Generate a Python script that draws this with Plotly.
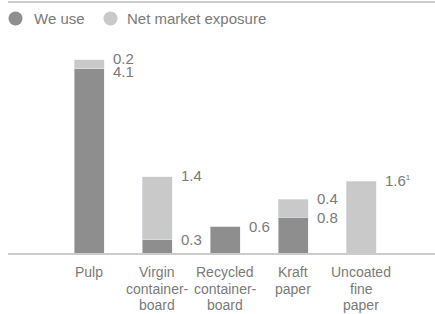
import plotly.graph_objects as go

categories = ["Pulp", "Virgin<br>container-<br>board", "Recycled<br>container-<br>board", "Kraft<br>paper", "Uncoated<br>fine<br>paper"]
we_use = [4.1, 0.3, 0.6, 0.8, 0.0]
net_exposure = [0.2, 1.4, 0.0, 0.4, 1.6]
we_use_labels = ["4.1", "0.3", "0.6", "0.8", ""]
net_labels = ["0.2", "1.4", "", "0.4", "1.6<sup><span style='font-size:8px'>1</span></sup>"]
series_names = ["We use", "Net market exposure"]

DARK = "#8e8e8e"
LIGHT = "#c9c9c9"
TEXT = "#7a7a7a"
FONT = "Liberation Sans, Arial, sans-serif"

W, H = 435, 314
ML, MR, MT, MB = 8, 0, 40, 61
PX_PER_UNIT = 44.9
plot_h = H - MT - MB
plot_w = W - ML - MR
ymax = plot_h / PX_PER_UNIT
slot = 68.0
first_center = 89 - ML
xr0 = -first_center / slot
xr1 = xr0 + plot_w / slot

xs = list(range(len(categories)))

fig = go.Figure()
fig.add_trace(go.Bar(x=xs, y=we_use, marker_color=DARK, width=30 / slot, name=series_names[0],
                     showlegend=False, hoverinfo="skip"))
fig.add_trace(go.Bar(x=xs, y=net_exposure, marker_color=LIGHT, width=30 / slot, name=series_names[1],
                     showlegend=False, hoverinfo="skip"))

def px_x(p):
    return (p - ML) / plot_w

def px_y(p):
    return 1 + (MT - p) / plot_h

annotations = []
shapes = [dict(type="line", xref="paper", yref="paper", x0=0, x1=1,
               y0=px_y(2), y1=px_y(2), line=dict(color="#cccccc", width=2))]

# custom legend (circle + text)
legend_items = [(series_names[0], DARK, 15.5, 32), (series_names[1], LIGHT, 110.5, 125)]
for name, col, cx, tx in legend_items:
    shapes.append(dict(type="circle", xref="paper", yref="paper", xsizemode="pixel", ysizemode="pixel",
                       xanchor=px_x(cx), yanchor=px_y(18.5), x0=-7, x1=7, y0=-7, y1=7,
                       fillcolor=col, line=dict(width=0)))
    annotations.append(dict(xref="paper", yref="paper", x=px_x(tx), y=px_y(18.5), text=name,
                            xanchor="left", yanchor="middle", showarrow=False,
                            font=dict(size=15, color=TEXT, family=FONT)))

for i in xs:
    if we_use_labels[i]:
        shift = -3 if 0 < net_exposure[i] < 0.3 else 0
        annotations.append(dict(x=i + 0.5 * 30 / slot, y=we_use[i], text=we_use_labels[i],
                                xanchor="left", yanchor="middle", xshift=7, yshift=shift,
                                showarrow=False, font=dict(size=15, color=TEXT, family=FONT)))
    if net_labels[i]:
        annotations.append(dict(x=i + 0.5 * 30 / slot, y=we_use[i] + net_exposure[i], text=net_labels[i],
                                xanchor="left", yanchor="middle", xshift=7, yshift=1,
                                showarrow=False, font=dict(size=15, color=TEXT, family=FONT)))
    for k, line in enumerate(categories[i].split("<br>")):
        annotations.append(dict(x=i, y=0, text=line, xanchor="center", yanchor="top",
                                yshift=-9 - k * 16.5, showarrow=False,
                                font=dict(size=14, color=TEXT, family=FONT)))

fig.update_layout(
    width=W, height=H,
    margin=dict(l=ML, r=MR, t=MT, b=MB, autoexpand=False),
    barmode="stack",
    showlegend=False,
    paper_bgcolor="white", plot_bgcolor="white",
    font=dict(family=FONT, color=TEXT),
    xaxis=dict(range=[xr0, xr1], showticklabels=False, ticks="", showgrid=False,
               zeroline=False, showline=True, linecolor="#cccccc", linewidth=2, fixedrange=True),
    yaxis=dict(range=[0, ymax], visible=False, fixedrange=True),
    shapes=shapes,
    annotations=annotations,
)

fig.write_html("out.html", config={"displayModeBar": False},
               post_script="document.body.style.margin='0px';")
